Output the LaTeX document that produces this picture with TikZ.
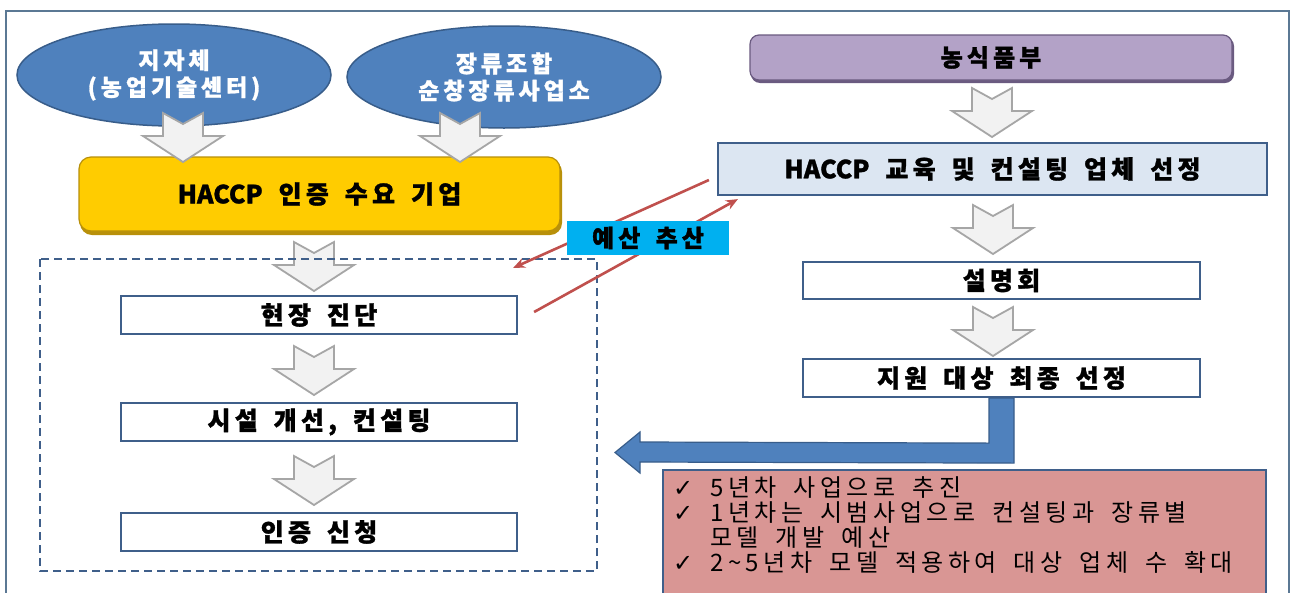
\documentclass[tikz,border=0pt]{standalone}
\usepackage{fontspec}
\setmainfont{Noto Sans CJK KR}
\newfontfamily\kr[LetterSpace=17,WordSpace=1.6,BoldFeatures={FakeBold=1.2}]{Noto Sans CJK KR}
\newfontfamily\krn[WordSpace=1.6,BoldFeatures={FakeBold=1.2}]{Noto Sans CJK KR}
\newfontfamily\krl[LetterSpace=19,WordSpace=1.7]{Noto Sans CJK KR}
\newfontfamily\dv{DejaVu Sans}
\usetikzlibrary{arrows.meta,shapes.geometric,calc}
\definecolor{framec}{HTML}{5B7894}
\definecolor{ellfill}{HTML}{4F81BD}
\definecolor{elldraw}{HTML}{385D8A}
\definecolor{yel}{HTML}{FFCC00}
\definecolor{yeld}{HTML}{B8900A}
\definecolor{arrfill}{HTML}{F2F2F2}
\definecolor{arrdraw}{HTML}{A6A6A6}
\definecolor{boxd}{HTML}{3F5F8A}
\definecolor{purp}{HTML}{B3A2C7}
\definecolor{purpd}{HTML}{6A5A80}
\definecolor{lblue}{HTML}{DCE6F2}
\definecolor{cyanl}{HTML}{00B0F0}
\definecolor{redl}{HTML}{C0504D}
\definecolor{pinkb}{HTML}{D99694}
\tikzset{
  ell/.style={ellipse, fill=ellfill, draw=elldraw, line width=1.5pt, minimum width=314pt, minimum height=102pt, inner sep=0pt, align=center, text=white, font=\kr\bfseries\fontsize{23}{27}\selectfont},
  wbox/.style={rectangle, fill=white, draw=boxd, line width=2.2pt, minimum width=396pt, minimum height=38pt, inner sep=0pt, font=\kr\bfseries\fontsize{25}{28}\selectfont},
  garrow/.pic={\path[fill=arrfill, draw=arrdraw, line width=1.8pt, line join=miter]
     (-20,0) -- (0,11) -- (20,0) -- (20,23) -- (40,23) -- (0,49) -- (-40,23) -- (-20,23) -- cycle;},
  redarr/.style={draw=redl, line width=2.6pt, -{Stealth[length=12pt,width=10pt]}},
}
\begin{document}
\begin{tikzpicture}[x=1pt,y=-1pt]
\useasboundingbox (0,0) rectangle (1292,592);
\clip (0,0) rectangle (1292,592);
\fill[white] (0,0) rectangle (1292,592);
% outer frame
\draw[framec, line width=1.2pt] (6,11) rectangle (1289,620);
% ellipses
\node[ell] (e1) at (174,75) {지자체\\(농업기술센터)};
\node[ell] (e2) at (504,77) {장류조합\\순창장류사업소};
% demand box
\fill[yeld, rounded corners=12pt] (80,160) rectangle (562,235);
\node[rectangle, rounded corners=12pt, fill=yel, draw=yeld, line width=1.2pt, minimum width=481pt, minimum height=74pt, inner sep=0pt, font=\kr\bfseries\fontsize{25}{28}\selectfont] (dem) at (319.5,194) {{\krn HACCP} 인증 수요 기업};
% gray arrows, left
\pic at (183,113) {garrow};
\pic at (460,113) {garrow};
% left process
\node[wbox] (b1) at (319,315) {현장 진단};
\node[wbox] (b2) at (319,422) {시설 개선, 컨설팅};
\node[wbox] (b3) at (319,532) {인증 신청};
\pic at (314,242) {garrow};
\pic at (314,346) {garrow};
\pic at (314,456) {garrow};
\draw[boxd, line width=2pt, dash pattern=on 8pt off 5pt] (40,259) rectangle (597,571);
% right column
\fill[purpd, rounded corners=9pt] (751,37) rectangle (1234,83);
\node[rectangle, rounded corners=9pt, fill=purp, draw=purpd, line width=1.2pt, minimum width=482pt, minimum height=45pt, inner sep=0pt, font=\kr\bfseries\fontsize{24}{28}\selectfont] (mafra) at (991,57.5) {농식품부};
\node[rectangle, fill=lblue, draw=boxd, line width=2.2pt, minimum width=549pt, minimum height=52pt, inner sep=0pt, font=\kr\bfseries\fontsize{25}{28}\selectfont] (edu) at (992.5,169) {{\krn HACCP} 교육 및 컨설팅 업체 선정};
\node[wbox, minimum width=397pt, minimum height=37pt] (brief) at (1001.5,280.5) {설명회};
\node[wbox, minimum width=397pt] (sel) at (1001.5,378) {지원 대상 최종 선정};
\pic at (992,88) {garrow};
\pic at (993,205) {garrow};
\pic at (993,307) {garrow};
% red arrows
\coordinate (ra1) at ($(edu.west)+(-8,11)$);
\coordinate (ra2) at ($(b1.north east)+(-5,-27)$);
\coordinate (rb1) at ($(b1.east)+(16,-3)$);
\coordinate (rb2) at ($(edu.south west)+(21,3)$);
\draw[redarr] (ra1) -- (ra2);
\draw[redarr] (rb1) -- (rb2);
\node[rectangle, fill=cyanl, minimum width=162pt, minimum height=34pt, inner sep=0pt, font=\kr\bfseries\fontsize{24}{28}\selectfont] (budget) at (648,238) {예산 추산};
% blue bent arrow
\coordinate (bt) at (615,452.5);
\path[fill=ellfill, draw=elldraw, line width=1.2pt, line join=miter]
  ($(sel.south)+(12.5,0)$) -- ($(sel.south)+(12.5,65)$) -- (640,462) -- (640,473) -- (bt) -- (640,432) -- (640,442) -- ($(sel.south)+(-12.5,45)$) -- ($(sel.south)+(-12.5,0)$) -- cycle;
% note box
\node[rectangle, fill=pinkb, draw=boxd, line width=1.5pt, anchor=north west, minimum width=603pt, minimum height=140pt, inner sep=0pt] (note) at (662,469) {};
\node[anchor=north west, align=left, inner sep=0pt, font=\krl\fontsize{24}{25.3}\selectfont] (notetext) at ($(note.north west)+(11,7)$)
  {\makebox[37pt][l]{\dv\fontsize{24}{20}\selectfont ✓}5년차 사업으로 추진\\
   \makebox[37pt][l]{\dv\fontsize{24}{20}\selectfont ✓}1년차는 시범사업으로 컨설팅과 장류별\\
   \makebox[37pt][l]{}모델 개발 예산\\
   \makebox[37pt][l]{\dv\fontsize{24}{20}\selectfont ✓}2\textasciitilde 5년차 모델 적용하여 대상 업체 수 확대};
\end{tikzpicture}
\end{document}
